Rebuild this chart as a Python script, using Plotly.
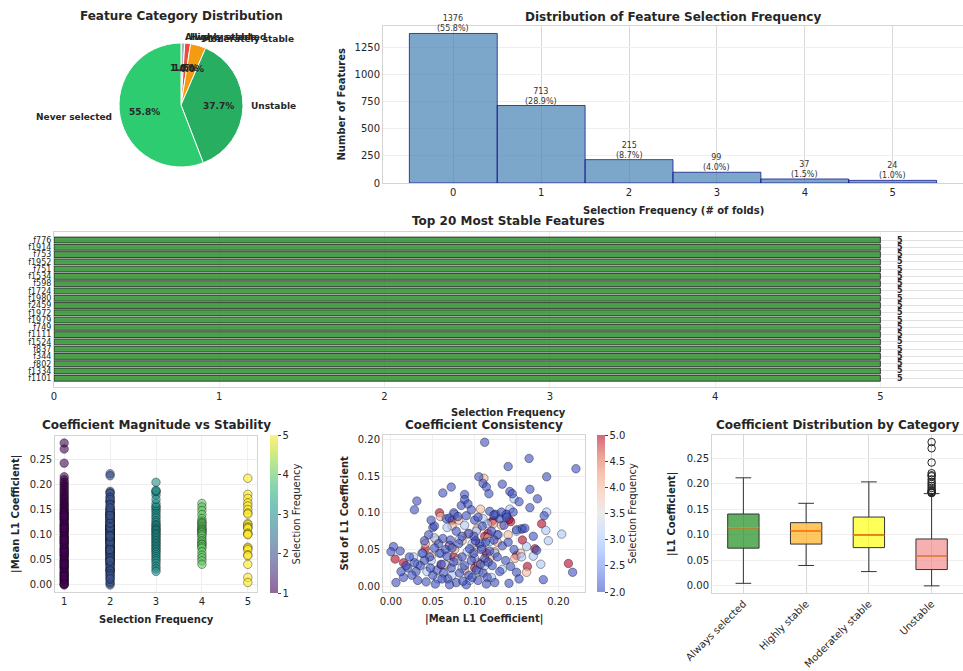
import math
import plotly.graph_objects as go

W, H = 963, 671
TXT = "#262626"
FRAME = "#d4d4d4"
FONT = "DejaVu Sans"

# ---------------- data ----------------
freq_bins = [0, 1, 2, 3, 4, 5]
freq_counts = [1376, 713, 215, 99, 37, 24]

category_names = ["Always selected", "Highly stable", "Moderately stable", "Unstable", "Never selected"]
category_colors = ["#a9b3b5", "#e74c3c", "#f39c12", "#27ae60", "#2ecc71"]

top_features = ["f776", "f1914", "f753", "f1952", "f751", "f1534", "f598", "f1724", "f1980", "f2459",
                "f1972", "f1979", "f749", "f1111", "f1524", "f837", "f344", "f802", "f1334", "f1101"]
top_freq = [5, 5, 5, 5, 5, 5, 5, 5, 5, 5, 5, 5, 5, 5, 5, 5, 5, 5, 5, 5]

# |mean L1 coefficient| of features selected in exactly one fold
once_mean = [0.282, 0.270, 0.242, 0.215, 0.209, 0.204, 0.200, 0.196, 0.192, 0.188, 0.184, 0.180,
             0.177, 0.173, 0.170, 0.166, 0.163, 0.160, 0.157, 0.154, 0.151, 0.148, 0.145, 0.142,
             0.139, 0.136, 0.133, 0.130, 0.127, 0.124, 0.121, 0.118, 0.115, 0.112, 0.109, 0.106,
             0.103, 0.100, 0.097, 0.094, 0.091, 0.088, 0.085, 0.082, 0.079, 0.076, 0.073, 0.070,
             0.067, 0.064, 0.061, 0.058, 0.055, 0.052, 0.049, 0.046, 0.043, 0.040, 0.037, 0.034,
             0.031, 0.028, 0.025, 0.022, 0.019, 0.016, 0.013, 0.010, 0.007, 0.004, 0.001, 0.000,
             0.011, 0.023, 0.035, 0.047, 0.059, 0.071, 0.083, 0.095, 0.107, 0.119, 0.131, 0.143,
             0.002, 0.017, 0.041, 0.065, 0.089, 0.113, 0.137]

# (|mean L1 coefficient|, std of L1 coefficient) per selection frequency
twice_points = [
    (0.112, 0.196), (0.165, 0.174), (0.140, 0.163), (0.221, 0.160), (0.186, 0.149), (0.105, 0.149),
    (0.110, 0.140), (0.114, 0.135), (0.117, 0.126), (0.072, 0.135), (0.133, 0.139), (0.062, 0.127),
    (0.088, 0.125), (0.031, 0.116), (0.028, 0.104), (0.142, 0.129), (0.145, 0.126), (0.166, 0.132),
    (0.175, 0.119), (0.153, 0.115), (0.166, 0.107), (0.183, 0.096), (0.217, 0.019), (0.182, 0.009),
    (0.150, 0.019), (0.174, 0.049), (0.170, 0.068), (0.141, 0.004), (0.003, 0.054), (0.000, 0.047),
    (0.011, 0.048), (0.006, 0.005),
    (0.040, 0.062), (0.045, 0.070), (0.050, 0.080), (0.052, 0.082), (0.057, 0.058), (0.062, 0.065),
    (0.066, 0.092), (0.070, 0.093), (0.075, 0.100), (0.080, 0.095), (0.084, 0.110), (0.088, 0.118),
    (0.092, 0.112), (0.090, 0.096), (0.096, 0.104), (0.100, 0.090), (0.104, 0.094), (0.109, 0.082),
    (0.118, 0.102), (0.125, 0.098), (0.130, 0.092), (0.135, 0.083), (0.138, 0.098), (0.146, 0.101),
    (0.150, 0.077), (0.157, 0.078), (0.160, 0.079), (0.127, 0.070), (0.120, 0.075), (0.113, 0.060),
    (0.106, 0.058), (0.099, 0.068), (0.093, 0.072), (0.085, 0.068), (0.078, 0.075), (0.071, 0.063),
    (0.065, 0.050), (0.058, 0.045), (0.052, 0.052), (0.046, 0.040), (0.040, 0.035), (0.035, 0.028),
    (0.030, 0.020), (0.025, 0.015), (0.020, 0.025), (0.015, 0.012), (0.032, 0.008), (0.042, 0.006),
    (0.050, 0.015), (0.055, 0.022), (0.060, 0.030), (0.063, 0.018), (0.068, 0.010), (0.072, 0.025),
    (0.075, 0.033), (0.078, 0.005), (0.082, 0.018), (0.085, 0.040), (0.088, 0.028), (0.090, 0.002),
    (0.093, 0.015), (0.096, 0.035), (0.099, 0.045), (0.102, 0.022), (0.104, 0.008), (0.107, 0.030),
    (0.110, 0.018), (0.112, 0.038), (0.115, 0.012), (0.118, 0.048), (0.121, 0.028), (0.124, 0.005),
    (0.127, 0.040), (0.130, 0.020), (0.133, 0.055), (0.137, 0.035), (0.140, 0.060), (0.143, 0.027),
    (0.147, 0.050), (0.153, 0.010), (0.067, 0.041), (0.073, 0.052), (0.081, 0.058), (0.094, 0.051),
    (0.101, 0.062), (0.108, 0.050), (0.116, 0.033), (0.123, 0.063), (0.061, 0.010), (0.070, 0.002),
    (0.086, 0.007), (0.097, 0.012), (0.114, 0.003), (0.053, 0.003), (0.047, 0.025), (0.038, 0.045),
    (0.028, 0.032), (0.022, 0.040), (0.018, 0.028), (0.012, 0.020), (0.048, 0.090), (0.123, 0.097),
    (0.132, 0.101), (0.138, 0.094),
]
thrice_points = [
    (0.204, 0.071), (0.186, 0.101), (0.179, 0.030), (0.185, 0.076), (0.155, 0.078), (0.150, 0.075),
    (0.147, 0.119), (0.156, 0.040), (0.142, 0.105), (0.137, 0.097), (0.133, 0.023), (0.128, 0.070),
    (0.124, 0.045), (0.120, 0.012), (0.118, 0.061), (0.115, 0.085), (0.112, 0.028), (0.110, 0.092),
    (0.108, 0.054), (0.105, 0.020), (0.102, 0.075), (0.100, 0.038), (0.097, 0.058), (0.094, 0.008),
    (0.091, 0.047), (0.088, 0.083), (0.085, 0.025), (0.082, 0.064), (0.079, 0.035), (0.076, 0.098),
    (0.073, 0.015), (0.070, 0.055), (0.067, 0.080), (0.064, 0.030), (0.060, 0.045), (0.056, 0.010),
    (0.052, 0.066), (0.048, 0.035), (0.043, 0.020), (0.037, 0.045), (0.032, 0.030), (0.027, 0.040),
    (0.162, 0.054), (0.170, 0.041), (0.188, 0.062),
]
four_points = [
    (0.162, 0.019), (0.155, 0.045), (0.148, 0.038), (0.140, 0.070), (0.132, 0.083), (0.127, 0.060),
    (0.124, 0.047), (0.122, 0.085), (0.119, 0.040), (0.116, 0.066), (0.113, 0.035), (0.111, 0.147),
    (0.109, 0.052), (0.107, 0.105), (0.105, 0.030), (0.103, 0.078), (0.100, 0.057), (0.097, 0.044),
    (0.092, 0.071), (0.088, 0.022), (0.085, 0.062), (0.081, 0.090), (0.080, 0.037), (0.076, 0.050),
    (0.073, 0.082), (0.066, 0.029), (0.059, 0.095), (0.054, 0.063), (0.048, 0.041), (0.041, 0.058),
]
five_points = [
    (0.212, 0.031), (0.180, 0.085), (0.172, 0.051), (0.163, 0.027), (0.157, 0.063), (0.150, 0.042),
    (0.143, 0.088), (0.141, 0.091), (0.122, 0.090), (0.120, 0.087), (0.116, 0.072), (0.114, 0.045),
    (0.112, 0.068), (0.103, 0.033), (0.101, 0.060), (0.100, 0.025), (0.075, 0.040), (0.073, 0.090),
    (0.070, 0.056), (0.060, 0.029), (0.058, 0.100), (0.041, 0.051), (0.015, 0.032), (0.005, 0.037),
]

# box statistics of |L1 coefficient| per stability category
box_cats = ["Always selected", "Highly stable", "Moderately stable", "Unstable"]
box_q1 = [0.074, 0.082, 0.075, 0.032]
box_median = [0.114, 0.108, 0.100, 0.059]
box_q3 = [0.141, 0.124, 0.135, 0.092]
box_low = [0.005, 0.040, 0.028, 0.000]
box_high = [0.212, 0.162, 0.204, 0.181]
box_fill = ["rgba(0,128,0,0.62)", "rgba(255,165,0,0.62)", "rgba(255,255,0,0.65)", "rgba(240,128,128,0.62)"]

# ---------------- helpers ----------------
def dx(x0, x1):
    return [x0 / W, x1 / W]


def dy(y0, y1):
    return [1 - y1 / H, 1 - y0 / H]


def rgba(hexcol, a):
    h = hexcol.lstrip("#")
    return f"rgba({int(h[0:2], 16)},{int(h[2:4], 16)},{int(h[4:6], 16)},{a})"


VIRIDIS = ["#440154", "#482878", "#3e4989", "#31688e", "#26828e",
           "#1f9e89", "#35b779", "#6ece58", "#b5de2b", "#fde725"]
viridis_a = [[i / (len(VIRIDIS) - 1), rgba(c, 0.6)] for i, c in enumerate(VIRIDIS)]
COOLWARM = ["#3b4cc0", "#6282ea", "#8db0fe", "#b8d0f9", "#dddddd",
            "#f5c4ad", "#f49a7b", "#de604d", "#b40426"]
coolwarm_a = [[i / (len(COOLWARM) - 1), rgba(c, 0.6)] for i, c in enumerate(COOLWARM)]

# axes rectangles in pixels: (left, right, top, bottom)
R_BAR = (383, 963, 26, 183)
R_TOP = (54, 963, 232, 387)
R_SC1 = (55, 257, 436, 592)
R_SC2 = (383, 585, 435, 592)
R_BOX = (712, 963, 435, 593)
PIE_C, PIE_R = (181, 105), 62

fig = go.Figure()
annotations = []


def text(x, y, s, size=10, bold=False, angle=0, xanchor="center", yanchor="middle", color=TXT):
    annotations.append(dict(
        x=x / W, y=1 - y / H, xref="paper", yref="paper", text=s, showarrow=False,
        textangle=angle, xanchor=xanchor, yanchor=yanchor,
        font=dict(family=FONT, size=size, color=color, weight="bold" if bold else "normal")))


# ---------------- pie ----------------
cat_counts = [freq_counts[5], freq_counts[4], freq_counts[3], freq_counts[1] + freq_counts[2], freq_counts[0]]
fig.add_trace(go.Pie(
    values=cat_counts, labels=category_names, sort=False, direction="clockwise", rotation=0,
    marker=dict(colors=category_colors, line=dict(color="white", width=1)),
    textinfo="none", hoverinfo="label+percent",
    domain=dict(x=dx(PIE_C[0] - PIE_R, PIE_C[0] + PIE_R), y=dy(PIE_C[1] - PIE_R, PIE_C[1] + PIE_R)),
))
total_cat = sum(cat_counts)
cum = 0.0
for name, cnt in zip(category_names, cat_counts):
    frac = cnt / total_cat
    ang = (cum + frac / 2) * 2 * math.pi
    cum += frac
    sx, cy_ = math.sin(ang), math.cos(ang)
    text(PIE_C[0] + 1.1 * PIE_R * sx, PIE_C[1] - 1.1 * PIE_R * cy_, name, size=9, bold=True,
         xanchor="left" if sx > 0 else "right")
    text(PIE_C[0] + 0.6 * PIE_R * sx, PIE_C[1] - 0.6 * PIE_R * cy_, f"{frac * 100:.1f}%", size=9, bold=True)
text(PIE_C[0], 16, "Feature Category Distribution", size=12, bold=True)

# ---------------- selection frequency histogram ----------------
fig.add_trace(go.Bar(
    x=freq_bins, y=freq_counts, width=1,
    marker=dict(color="rgba(70,130,180,0.7)", line=dict(color="rgba(0,0,128,0.7)", width=1)),
    xaxis="x", yaxis="y",
))
total_feat = sum(freq_counts)
for b, c in zip(freq_bins, freq_counts):
    annotations.append(dict(x=b, y=c, xref="x", yref="y", yanchor="bottom", yshift=-2, showarrow=False,
                            text=f"{c}<br>({c / total_feat * 100:.1f}%)",
                            font=dict(family=FONT, size=8, color="#333333")))
text((R_BAR[0] + R_BAR[1]) / 2, 17, "Distribution of Feature Selection Frequency", size=12, bold=True)
text((R_BAR[0] + R_BAR[1]) / 2, 210, "Selection Frequency (# of folds)", size=10, bold=True)
text(341, (R_BAR[2] + R_BAR[3]) / 2, "Number of Features", size=10, bold=True, angle=-90)

# ---------------- top 20 features ----------------
fig.add_trace(go.Bar(
    x=top_freq, y=top_features, orientation="h", width=0.8,
    marker=dict(color="rgba(34,139,34,0.8)", line=dict(color="rgba(30,30,30,0.8)", width=1)),
    xaxis="x2", yaxis="y2",
))
for f, v in zip(top_features, top_freq):
    annotations.append(dict(x=v, y=f, xref="x2", yref="y2", xanchor="left", xshift=15, showarrow=False,
                            text=str(v), font=dict(family=FONT, size=8, color=TXT, weight="bold")))
text((R_TOP[0] + R_TOP[1]) / 2, 221, "Top 20 Most Stable Features", size=12, bold=True)
text((R_TOP[0] + R_TOP[1]) / 2, 413, "Selection Frequency", size=10, bold=True)

# ---------------- magnitude vs stability ----------------
groups = [(2, twice_points), (3, thrice_points), (4, four_points), (5, five_points)]
sc1_x = [1] * len(once_mean)
sc1_y = list(once_mean)
for k, pts in groups:
    sc1_x += [k] * len(pts)
    sc1_y += [p[0] for p in pts]

fig.add_trace(go.Scatter(
    x=sc1_x, y=sc1_y, mode="markers", xaxis="x3", yaxis="y3",
    marker=dict(size=8.5, color=sc1_x, colorscale=viridis_a, cmin=1, cmax=5,
                line=dict(color="rgba(0,0,0,0.6)", width=0.6), showscale=True,
                colorbar=dict(x=270 / W, xanchor="left", xpad=0, ypad=0, y=1 - 593 / H, yanchor="bottom",
                              len=158 / H, lenmode="fraction", thickness=8, outlinewidth=0,
                              ticks="outside", ticklen=3, tickcolor="#444", tickvals=[1, 2, 3, 4, 5],
                              tickfont=dict(family=FONT, size=10, color=TXT),
                              title=dict(text="Selection Frequency", side="right",
                                         font=dict(family=FONT, size=10, color=TXT)))),
))
text((R_SC1[0] + R_SC1[1]) / 2, 425, "Coefficient Magnitude vs Stability", size=12, bold=True)
text((R_SC1[0] + R_SC1[1]) / 2, 619, "Selection Frequency", size=10, bold=True)
text(16, (R_SC1[2] + R_SC1[3]) / 2, "|Mean L1 Coefficient|", size=10, bold=True, angle=-90)

# ---------------- coefficient consistency ----------------
# rarely selected features are drawn last, so they sit on top of the stable ones
sc2_x, sc2_y, sc2_c = [], [], []
for k, pts in reversed(groups):
    sc2_x += [p[0] for p in pts]
    sc2_y += [p[1] for p in pts]
    sc2_c += [k] * len(pts)

fig.add_trace(go.Scatter(
    x=sc2_x, y=sc2_y, mode="markers", xaxis="x4", yaxis="y4",
    marker=dict(size=8.5, color=sc2_c, colorscale=coolwarm_a, cmin=2, cmax=5,
                line=dict(color="rgba(0,0,0,0.6)", width=0.6), showscale=True,
                colorbar=dict(x=597 / W, xanchor="left", xpad=0, ypad=0, y=1 - 592 / H, yanchor="bottom",
                              len=157 / H, lenmode="fraction", thickness=8, outlinewidth=0,
                              ticks="outside", ticklen=3, tickcolor="#444",
                              tickvals=[2, 2.5, 3, 3.5, 4, 4.5, 5], tickformat=".1f",
                              tickfont=dict(family=FONT, size=10, color=TXT),
                              title=dict(text="Selection Frequency", side="right",
                                         font=dict(family=FONT, size=10, color=TXT)))),
))
text((R_SC2[0] + R_SC2[1]) / 2, 425, "Coefficient Consistency", size=12, bold=True)
text((R_SC2[0] + R_SC2[1]) / 2, 619, "|Mean L1 Coefficient|", size=10, bold=True)
text(344, (R_SC2[2] + R_SC2[3]) / 2, "Std of L1 Coefficient", size=10, bold=True, angle=-90)

# ---------------- box plot by category ----------------
for cat, q1, med, q3, lo, hi, fc in zip(box_cats, box_q1, box_median, box_q3, box_low, box_high, box_fill):
    fig.add_trace(go.Box(
        x=[cat], q1=[q1], median=[med], q3=[q3], lowerfence=[lo], upperfence=[hi],
        width=0.5, whiskerwidth=0.5, fillcolor=fc, line=dict(color="#333333", width=1),
        boxpoints=False, xaxis="x5", yaxis="y5",
    ))
    # median line drawn in its own colour
    fig.add_trace(go.Box(
        x=[cat], q1=[med], median=[med], q3=[med], lowerfence=[med], upperfence=[med],
        width=0.5, whiskerwidth=0, fillcolor="rgba(0,0,0,0)", line=dict(color="#ff7f0e", width=1.5),
        boxpoints=False, xaxis="x5", yaxis="y5",
    ))
unstable_vals = once_mean + [p[0] for p in twice_points]
fliers = [v for v in unstable_vals if v > box_high[3]]
fig.add_trace(go.Scatter(
    x=["Unstable"] * len(fliers), y=fliers, mode="markers", xaxis="x5", yaxis="y5",
    marker=dict(symbol="circle-open", size=7.5, color="#222222", line=dict(width=1)),
))
text((R_BOX[0] + R_BOX[1]) / 2, 425, "Coefficient Distribution by Category", size=12, bold=True)
text(672, (R_BOX[2] + R_BOX[3]) / 2, "|L1 Coefficient|", size=10, bold=True, angle=-90)

# ---------------- axes ----------------
GRID_STRONG = "#d9d9d9"
GRID_SOFT = "#efefef"
base = dict(showline=True, mirror=True, linecolor=FRAME, linewidth=1, zeroline=False, ticks="",
            automargin=False, tickfont=dict(family=FONT, size=10, color=TXT))

fig.update_layout(
    width=W, height=H, autosize=False, margin=dict(l=0, r=0, t=0, b=0, autoexpand=False),
    paper_bgcolor="white", plot_bgcolor="white", showlegend=False, boxmode="overlay",
    font=dict(family=FONT, color=TXT), annotations=annotations,
    xaxis=dict(base, domain=dx(R_BAR[0], R_BAR[1]), anchor="y", range=[-0.8, 5.8],
               tickvals=freq_bins, showgrid=True, gridcolor=GRID_STRONG),
    yaxis=dict(base, domain=dy(R_BAR[2], R_BAR[3]), anchor="x", range=[0, 1444.8],
               tickvals=[0, 250, 500, 750, 1000, 1250], showgrid=True, gridcolor=GRID_SOFT),
    xaxis2=dict(base, domain=dx(R_TOP[0], R_TOP[1]), anchor="y2", range=[0, 5.5],
                tickvals=[0, 1, 2, 3, 4, 5], showgrid=True, gridcolor=GRID_SOFT),
    yaxis2=dict(base, domain=dy(R_TOP[2], R_TOP[3]), anchor="x2", type="category",
                categoryorder="array", categoryarray=top_features, range=[20.2, -1.1],
                tickmode="array", tickvals=top_features, ticktext=top_features,
                showgrid=True, gridcolor="#e0e0e0", tickfont=dict(family=FONT, size=8, color=TXT)),
    xaxis3=dict(base, domain=dx(R_SC1[0], R_SC1[1]), anchor="y3", range=[0.8, 5.2],
                tickvals=[1, 2, 3, 4, 5], showgrid=True, gridcolor=GRID_SOFT),
    yaxis3=dict(base, domain=dy(R_SC1[2], R_SC1[3]), anchor="x3", range=[-0.014, 0.296],
                tickvals=[0, 0.05, 0.10, 0.15, 0.20, 0.25], tickformat=".2f",
                showgrid=True, gridcolor=GRID_SOFT),
    xaxis4=dict(base, domain=dx(R_SC2[0], R_SC2[1]), anchor="y4", range=[-0.0095, 0.2318],
                tickvals=[0, 0.05, 0.10, 0.15, 0.20], tickformat=".2f",
                showgrid=True, gridcolor=GRID_SOFT),
    yaxis4=dict(base, domain=dy(R_SC2[2], R_SC2[3]), anchor="x4", range=[-0.0078, 0.2059],
                tickvals=[0, 0.05, 0.10, 0.15, 0.20], tickformat=".2f",
                showgrid=True, gridcolor=GRID_SOFT),
    xaxis5=dict(base, domain=dx(R_BOX[0], R_BOX[1]), anchor="y5", type="category",
                categoryorder="array", categoryarray=box_cats, range=[-0.5, 3.5],
                tickangle=-45, showgrid=True, gridcolor=GRID_STRONG),
    yaxis5=dict(base, domain=dy(R_BOX[2], R_BOX[3]), anchor="x5", range=[-0.014, 0.296],
                tickvals=[0, 0.05, 0.10, 0.15, 0.20, 0.25], tickformat=".2f",
                showgrid=True, gridcolor=GRID_SOFT),
)

fig.write_html("out.html")
